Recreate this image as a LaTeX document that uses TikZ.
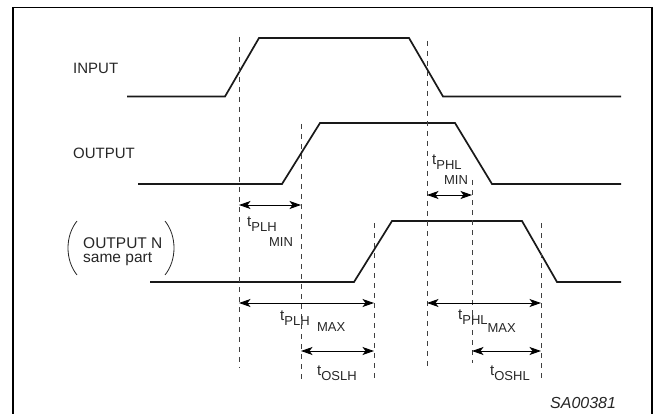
\documentclass[tikz,border=0pt]{standalone}
\usepackage{fontspec}
\setmainfont{Liberation Sans}
\usetikzlibrary{arrows.meta}

\newcommand{\bigt}{\fontsize{15}{15}\selectfont}
\newcommand{\subt}{\fontsize{13}{13}\selectfont}
\newcommand{\lo}[2][5pt]{\raisebox{-#1}{\subt #2}}

\begin{document}
\begin{tikzpicture}[x=1pt, y=-1pt,
    >={Stealth[length=11.5pt,width=8pt,inset=3pt]},
    wave/.style={line width=1.7pt, draw=black!90},
    guide/.style={dash pattern=on 5pt off 5pt, line width=0.7pt, draw=black!75},
    edge/.style={<->, line width=0.9pt},
    paren/.style={line width=0.8pt, draw=black!85},
    lbl/.style={inner sep=0pt, text=black!85, font=\bigt}]

  \useasboundingbox (0,0) rectangle (658,414);
  \draw[line width=1.8pt] (13,420) -- (13,7.5) -- (652,7.5) -- (652,420);

  % waveforms
  \draw[wave] (127,96.5) -- (225,96.5) -- (259,38) -- (409,38) -- (443,96.5) -- (621,96.5);
  \draw[wave] (138,184) -- (282,184) -- (320,123) -- (455,123) -- (492,184) -- (621,184);
  \draw[wave] (150,282) -- (354,282) -- (392,221) -- (522,221) -- (557,282) -- (621,282);

  % guides
  \draw[guide] (239,37) -- (239,368);
  \draw[guide] (301,124) -- (301,380);
  \draw[guide] (374,223) -- (374,378);
  \draw[guide] (427,41) -- (427,368);
  \draw[guide] (472,180) -- (472,363);
  \draw[guide] (541,223) -- (541,380);

  % arrow ends
  \coordinate (plhminA) at (239,205);
  \coordinate (plhminB) at (301,205);
  \coordinate (phlminA) at (427,195);
  \coordinate (phlminB) at (472,195);
  \coordinate (plhmaxA) at (239,303);
  \coordinate (plhmaxB) at (374,303);
  \coordinate (phlmaxA) at (427,303);
  \coordinate (phlmaxB) at (541,303);
  \coordinate (oslhA) at (301,351);
  \coordinate (oslhB) at (374,351);
  \coordinate (oshlA) at (472,351);
  \coordinate (oshlB) at (541,351);

  \draw[edge] (plhminA) -- (plhminB);
  \draw[edge] (phlminA) -- (phlminB);
  \draw[edge] (plhmaxA) -- (plhmaxB);
  \draw[edge] (phlmaxA) -- (phlmaxB);
  \draw[edge] (oslhA) -- (oslhB);
  \draw[edge] (oshlA) -- (oshlB);

  % signal names
  \node[lbl, anchor=base west] (input) at (73,74) {INPUT};
  \node[lbl, anchor=base west] (output) at (73,158.5) {OUTPUT};
  \node[lbl, anchor=base west, font=\fontsize{15.5}{15}\selectfont] (outn) at (83,248) {OUTPUT N};
  \node[lbl, anchor=base west, font=\fontsize{15.5}{15}\selectfont] (outnpart) at (83,262) {same part};
  \draw[paren] (77,221) .. controls (65,236) and (65,260) .. (77,275);
  \draw[paren] (165,221) .. controls (177,236) and (177,260) .. (165,275);

  % timing labels
  \node[lbl, anchor=base west] (tplhmin) at (247,226) {t\lo{PLH}\lo[20pt]{\hspace{-7.5pt}MIN}};
  \node[lbl, anchor=base west] (tphlmin) at (432,165) {t\lo{PHL}\lo[20pt]{\hspace{-17.5pt}MIN}};
  \node[lbl, anchor=base west] (tplhmax) at (280,320) {t\lo{PLH}\lo[11pt]{\hspace{7.5pt}MAX}};
  \node[lbl, anchor=base west] (tphlmax) at (458,319) {t\lo{PHL}\lo[13pt]{MAX}};
  \node[lbl, anchor=base west] (toslh) at (317,375) {t\lo{OSLH}};
  \node[lbl, anchor=base west] (toshl) at (490,375) {t\lo{OSHL}};

  \node[lbl, anchor=base west, font=\fontsize{16}{16}\selectfont\itshape] (code) at (550,408) {SA00381};
\end{tikzpicture}
\end{document}
